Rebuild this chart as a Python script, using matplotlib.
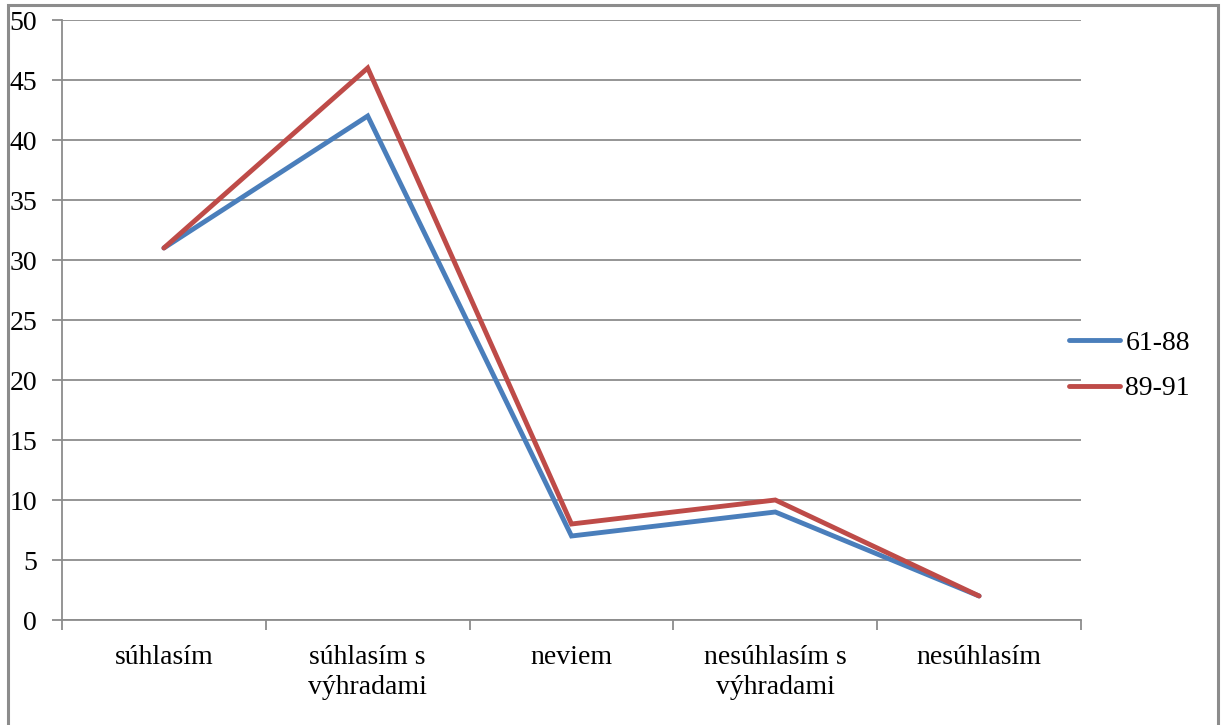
import matplotlib
matplotlib.use("Agg")
import matplotlib.pyplot as plt
from matplotlib.patches import Rectangle

categories = ["súhlasím", "súhlasím s\nvýhradami", "neviem", "nesúhlasím s\nvýhradami", "nesúhlasím"]
series_names = ["61-88", "89-91"]
values_6188 = [31, 42, 7, 9, 2]
values_8991 = [31, 46, 8, 10, 2]
colors = ["#4A7EBB", "#BE4B48"]

plt.rcParams['font.family'] = ['Liberation Serif', 'DejaVu Serif']

W, H = 1225, 725
fig = plt.figure(figsize=(W / 100, H / 100), dpi=100)

# outer chart border
fig.patches.append(Rectangle((8 / W, -0.01), (1218 - 8) / W, (725 - 5) / H + 0.01,
                             transform=fig.transFigure, fill=False,
                             edgecolor="#8C8C8C", linewidth=2.2))

ax = fig.add_axes([62 / W, (725 - 620) / H, (1081 - 62) / W, 600 / H])
x = list(range(len(categories)))
for vals, name, c in zip([values_6188, values_8991], series_names, colors):
    ax.plot(x, vals, color=c, linewidth=3.5, label=name, solid_capstyle="round",
            solid_joinstyle="miter")

ax.set_xlim(-0.5, len(categories) - 0.5)
ax.set_ylim(0, 50)
ax.set_yticks(range(0, 51, 5))
ax.set_xticks(x)
ax.set_xticklabels(categories, fontsize=20, linespacing=1.25)
ax.set_xticks([i - 0.5 for i in range(len(categories) + 1)], minor=True)
ax.tick_params(axis="x", which="major", length=0, pad=18)
ax.tick_params(axis="x", which="minor", length=7, color="#8C8C8C", width=1.3)
ax.tick_params(axis="y", length=7, color="#8C8C8C", width=1.3, labelsize=20, pad=11)

ax.grid(axis="y", color="#8C8C8C", linewidth=1.3)
ax.set_axisbelow(True)
for s in ["top", "right"]:
    ax.spines[s].set_visible(False)
for s in ["left", "bottom"]:
    ax.spines[s].set_color("#8C8C8C")
    ax.spines[s].set_linewidth(1.3)

leg = ax.legend(loc="center left", bbox_to_anchor=(1069 / W, (725 - 366) / H),
                bbox_transform=fig.transFigure, frameon=False, fontsize=20,
                handlelength=1.85, handletextpad=0.18, labelspacing=0.72,
                borderaxespad=0, borderpad=0)

fig.savefig("out.png", dpi=100)
